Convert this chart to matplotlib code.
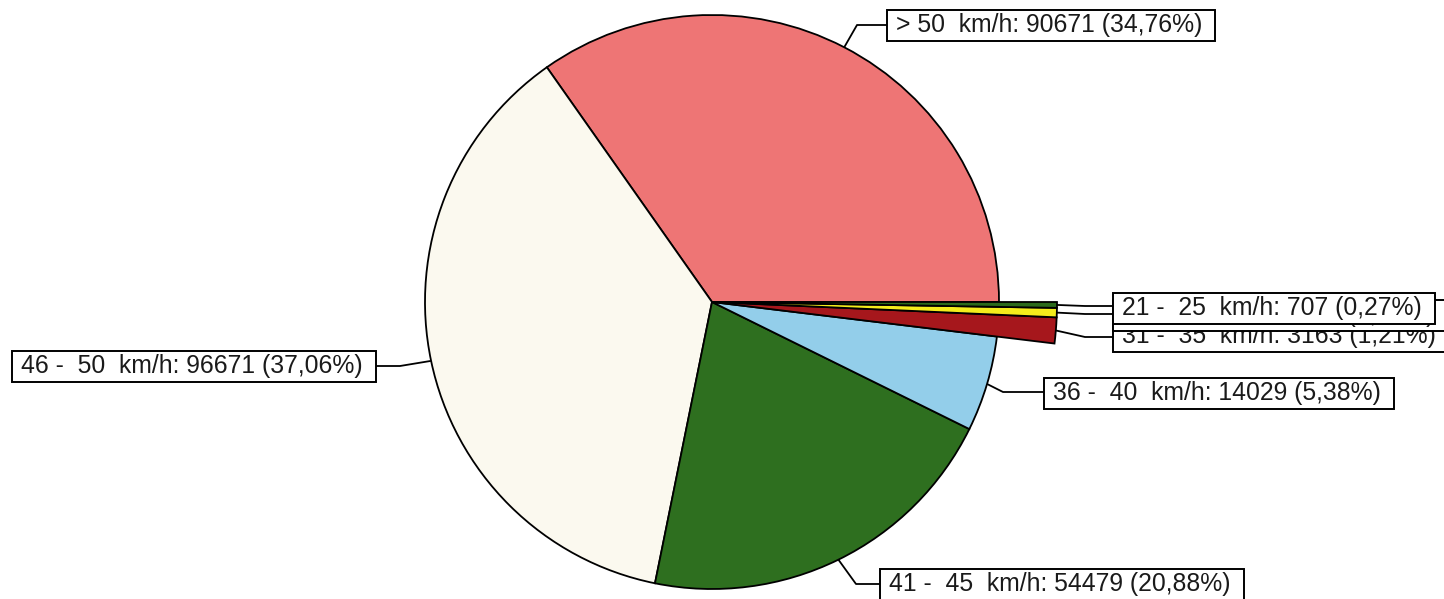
import matplotlib
matplotlib.use("Agg")
import matplotlib.pyplot as plt
from matplotlib.patches import Rectangle
import numpy as np

W, H = 1444, 599

# ---- data ----
categories = [">50", "46-50", "41-45", "36-40", "31-35", "26-30", "21-25"]
values = [90671, 96671, 54479, 14029, 3163, 1140, 707]
labels = ["> 50  km/h: 90671 (34,76%)",
          "46 -  50  km/h: 96671 (37,06%)",
          "41 -  45  km/h: 54479 (20,88%)",
          "36 -  40  km/h: 14029 (5,38%)",
          "31 -  35  km/h: 3163 (1,21%)",
          "26 -  30  km/h: 1140 (0,44%)",
          "21 -  25  km/h: 707 (0,27%)"]
colors = ["#EE7575", "#FBF9EF", "#2E6F1F", "#93CEEA", "#A6171C", "#F4EC1C", "#2B6A1B"]

# ---- layout (image pixel coords, y down) ----
center = (712, 302)
radius = 287
big_radius = 345
small = {"31-35", "26-30", "21-25"}
# box left, box top, box height ; leader bend point ; z
box_pos = {
    ">50":   (887, 10, (857, 25)),
    "46-50": (12, 351, (400, 366)),
    "41-45": (880, 569, (856, 584)),
    "36-40": (1044, 378, (1003, 392)),
    "31-35": (1113, 321, (1085, 337)),
    "26-30": (1113, 300, (1085, 314)),
    "21-25": (1113, 293, (1085, 306)),
}
box_h = 31
zorders = {"31-35": 5, "26-30": 6, "21-25": 7}

plt.rcParams['font.family'] = ['Liberation Sans', 'DejaVu Sans']
fig = plt.figure(figsize=(W / 100, H / 100), dpi=100)
ax = fig.add_axes([0, 0, 1, 1])

def Y(y):
    return H - y

wedges, _ = ax.pie(values, colors=colors, startangle=0, counterclock=True,
                   center=(center[0], Y(center[1])), radius=radius,
                   wedgeprops=dict(edgecolor="black", linewidth=1.3))
for w, c in zip(wedges, categories):
    if c in small:
        w.set_radius(big_radius)

ax.set_xlim(0, W)
ax.set_ylim(0, H)
ax.set_aspect("auto")
ax.axis("off")

fig.canvas.draw()
renderer = fig.canvas.get_renderer()

for w, c, lab in zip(wedges, categories, labels):
    mid = np.deg2rad((w.theta1 + w.theta2) / 2)
    r = w.r
    sx = center[0] + r * np.cos(mid)
    sy = Y(center[1]) + r * np.sin(mid)
    bl, bt, bend = box_pos[c]
    z = zorders.get(c, 4)
    cy = bt + box_h / 2
    # text
    if bl > center[0]:
        xs = [sx, bend[0], bl]
    else:
        xs = [sx, bend[0], bl]
    ax.plot(xs, [sy, Y(bend[1]), Y(bend[1])], color="black", lw=1.3,
            zorder=3, solid_capstyle="butt")
    t = ax.text(bl + 9, Y(cy) + 0.5, lab, fontsize=17.8, ha="left", va="center",
                color="#1a1a1a", zorder=z + 0.5)
    ext = t.get_window_extent(renderer)
    tw = ext.width
    ax.add_patch(Rectangle((bl, Y(bt + box_h)), tw + 22, box_h, facecolor="white",
                           edgecolor="black", lw=1.4, zorder=z))

fig.savefig("out.png", dpi=100)
